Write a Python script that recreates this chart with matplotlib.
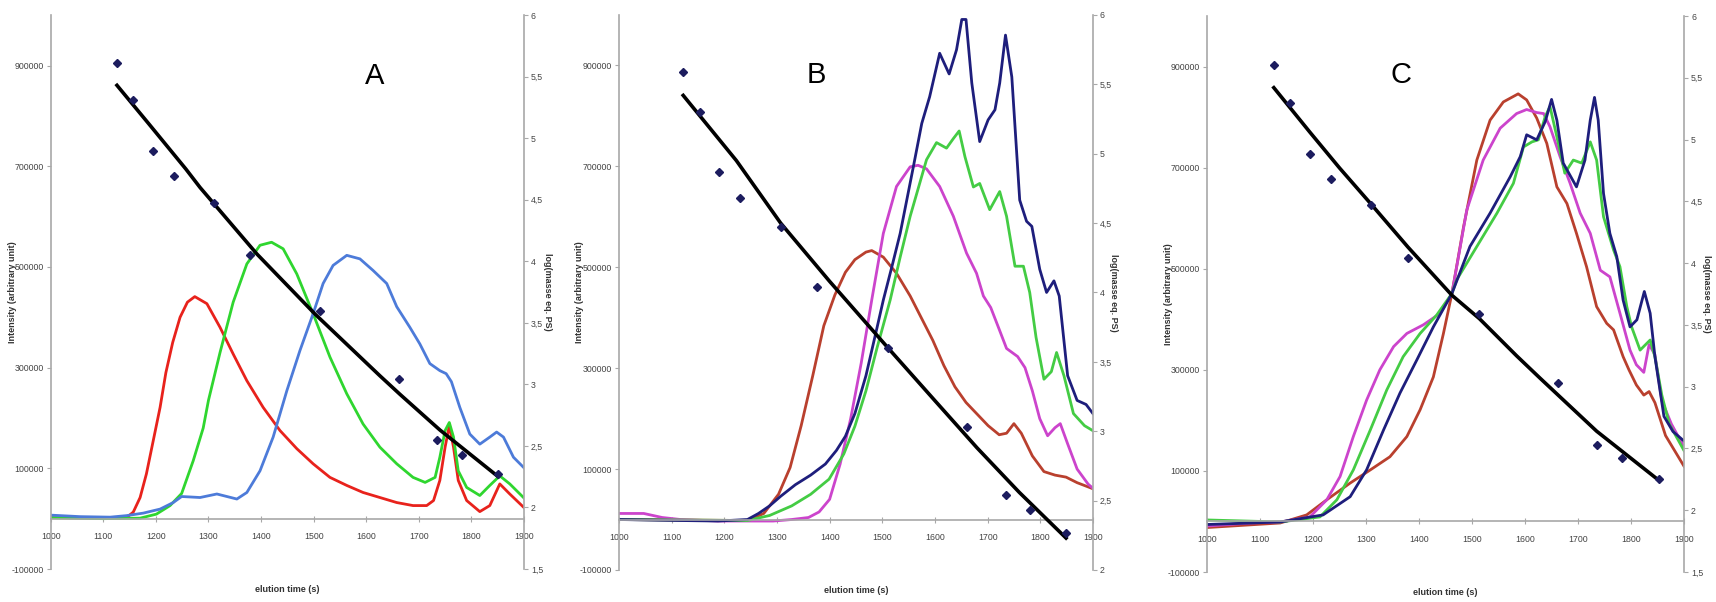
import numpy as np
import matplotlib.pyplot as plt
from matplotlib.ticker import FuncFormatter

plt.rcParams['font.family'] = ['Liberation Sans', 'DejaVu Sans']

# ---------------- panel A (intensity in thousands) ----------------
a_t_red = [1000, 1100, 1144, 1157, 1170, 1182, 1195, 1208, 1219, 1232, 1246, 1260, 1274, 1297,
           1322, 1347, 1373, 1404, 1436, 1468, 1499, 1531, 1563, 1594, 1626, 1658, 1689, 1715,
           1728, 1740, 1750, 1758, 1766, 1775, 1791, 1816, 1835, 1854, 1873, 1900]
a_red = [2, 1, 2, 13, 42, 89, 155, 221, 290, 350, 400, 430, 441, 427, 380, 327, 274, 221, 175,
         139, 109, 82, 66, 52, 42, 32, 26, 26, 36, 76, 142, 185, 142, 76, 36, 14, 26, 69, 49, 22]

a_t_green = [1000, 1100, 1170, 1201, 1227, 1249, 1271, 1290, 1300, 1322, 1347, 1373, 1398, 1420,
             1442, 1468, 1499, 1531, 1563, 1594, 1626, 1658, 1689, 1712, 1731, 1740, 1750, 1758,
             1766, 1775, 1791, 1816, 1835, 1854, 1873, 1900]
a_green = [2, 0, 1, 9, 26, 50, 115, 180, 235, 330, 430, 506, 543, 549, 536, 486, 407, 321, 248,
           188, 142, 109, 82, 72, 82, 122, 175, 191, 162, 95, 62, 46, 66, 85, 69, 41]

a_t_blue = [1000, 1056, 1113, 1144, 1176, 1208, 1233, 1249, 1284, 1316, 1354, 1373, 1398, 1423,
            1449, 1474, 1499, 1518, 1537, 1563, 1588, 1613, 1639, 1658, 1683, 1702, 1721, 1740,
            1752, 1762, 1778, 1797, 1816, 1835, 1848, 1861, 1880, 1900]
a_blue = [7, 4, 3, 6, 11, 19, 32, 44, 42, 49, 39, 52, 95, 162, 254, 334, 407, 467, 503, 523, 516,
          493, 467, 421, 380, 347, 308, 294, 288, 272, 221, 168, 148, 162, 172, 162, 122, 101]

a_pt_t = [1126, 1157, 1195, 1235, 1310, 1379, 1512, 1662, 1734, 1782, 1850]
a_pt_log = [5.61, 5.31, 4.90, 4.69, 4.47, 4.05, 3.60, 3.04, 2.55, 2.43, 2.27]
a_fit_t = [1126, 1186, 1257, 1284, 1392, 1503, 1626, 1664, 1740, 1851]
a_fit_log = [5.43, 5.12, 4.75, 4.60, 4.06, 3.57, 3.07, 2.92, 2.63, 2.25]

# ---------------- panel B ----------------
b_t_red = [1000, 1244, 1275, 1303, 1325, 1346, 1368, 1389, 1410, 1430, 1448, 1469, 1480, 1502,
           1527, 1553, 1574, 1596, 1617, 1638, 1659, 1680, 1701, 1722, 1736, 1750, 1764, 1785,
           1807, 1828, 1849, 1870, 1900]
b_red = [0, -2, 12, 50, 103, 186, 285, 384, 445, 490, 515, 530, 533, 520, 488, 443, 400, 355,
         305, 263, 232, 209, 186, 168, 171, 190, 171, 126, 95, 88, 84, 73, 61]

b_t_mag = [1000, 1047, 1082, 1117, 1188, 1258, 1293, 1328, 1360, 1380, 1400, 1420, 1440, 1460,
           1480, 1502, 1527, 1553, 1568, 1584, 1609, 1635, 1660, 1679, 1692, 1706, 1722, 1736,
           1757, 1771, 1785, 1799, 1814, 1828, 1838, 1852, 1870, 1891, 1900]
b_mag = [12, 12, 4, 0, -3, -3, -3, 0, 4, 15, 40, 110, 200, 310, 435, 567, 660, 699, 702, 695,
         660, 601, 528, 488, 443, 420, 377, 339, 323, 301, 255, 200, 166, 182, 190, 150, 100, 70,
         62]

b_t_green = [1000, 1244, 1286, 1328, 1364, 1399, 1427, 1448, 1469, 1490, 1515, 1534, 1553, 1584,
             1603, 1622, 1635, 1646, 1657, 1673, 1685, 1704, 1723, 1736, 1752, 1768, 1780, 1792,
             1807, 1821, 1831, 1845, 1863, 1884, 1900]
b_green = [0, -2, 8, 27, 50, 80, 130, 185, 255, 340, 435, 520, 601, 713, 747, 736, 755, 770, 719,
           659, 666, 614, 650, 601, 502, 502, 450, 361, 278, 293, 331, 285, 210, 186, 176]

b_t_navy = [1000, 1117, 1188, 1244, 1265, 1286, 1307, 1335, 1364, 1392, 1413, 1430, 1448, 1469,
            1490, 1502, 1518, 1534, 1559, 1575, 1590, 1609, 1627, 1641, 1651, 1659, 1670, 1685,
            1701, 1714, 1723, 1734, 1746, 1761, 1774, 1784, 1799, 1812, 1826, 1836, 1852, 1870,
            1887, 1900]
b_navy = [0, -2, -3, 0, 12, 27, 46, 69, 88, 110, 137, 165, 210, 285, 380, 435, 500, 567, 699, 785,
          838, 924, 883, 931, 991, 991, 865, 749, 792, 812, 865, 960, 877, 633, 591, 581, 496,
          450, 473, 443, 285, 236, 228, 210]

b_pt_t = [1122, 1153, 1190, 1230, 1307, 1376, 1511, 1660, 1734, 1780, 1849]
b_pt_log = [5.59, 5.30, 4.87, 4.68, 4.47, 4.04, 3.60, 3.03, 2.54, 2.43, 2.27]
b_fit_t = [1122, 1223, 1307, 1400, 1511, 1600, 1680, 1760, 1849]
b_fit_log = [5.42, 4.95, 4.50, 4.08, 3.60, 3.22, 2.88, 2.56, 2.23]

# ---------------- panel C ----------------
c_t_red = [1000, 1138, 1188, 1226, 1270, 1308, 1345, 1377, 1402, 1427, 1446, 1462, 1484, 1509,
           1534, 1559, 1587, 1603, 1622, 1641, 1660, 1679, 1697, 1716, 1735, 1754, 1767, 1785,
           1796, 1810, 1824, 1834, 1845, 1865, 1900]
c_red = [-12, -3, 13, 43, 76, 102, 128, 168, 221, 286, 372, 451, 583, 715, 794, 830, 846, 834,
         798, 748, 662, 629, 570, 504, 425, 392, 379, 326, 300, 270, 250, 257, 235, 170, 109]

c_t_mag = [1000, 1083, 1138, 1194, 1226, 1251, 1276, 1301, 1326, 1352, 1377, 1408, 1440, 1462,
           1490, 1521, 1553, 1584, 1603, 1622, 1635, 1647, 1666, 1685, 1704, 1723, 1742, 1760,
           1779, 1798, 1810, 1824, 1834, 1845, 1858, 1876, 1900]
c_mag = [-9, -3, -1, 9, 43, 89, 168, 240, 300, 346, 372, 389, 412, 451, 616, 715, 778, 807, 815,
         809, 807, 781, 722, 669, 610, 570, 497, 484, 412, 339, 310, 295, 350, 330, 239, 193, 147]

c_t_green = [1000, 1138, 1213, 1245, 1276, 1308, 1339, 1370, 1402, 1433, 1462, 1471, 1509, 1547,
             1578, 1597, 1613, 1625, 1638, 1647, 1660, 1675, 1691, 1707, 1723, 1735, 1748, 1767,
             1779, 1792, 1801, 1817, 1836, 1845, 1858, 1872, 1900]
c_green = [3, -1, 9, 43, 102, 181, 260, 326, 372, 408, 451, 478, 544, 610, 669, 741, 751, 755,
           801, 821, 761, 689, 715, 709, 751, 715, 603, 537, 504, 425, 385, 339, 359, 326, 250,
           193, 140]

c_t_navy = [1000, 1138, 1219, 1270, 1301, 1333, 1364, 1396, 1427, 1462, 1496, 1534, 1572, 1591,
            1603, 1622, 1638, 1650, 1660, 1672, 1697, 1713, 1723, 1731, 1738, 1748, 1760, 1773,
            1785, 1798, 1811, 1825, 1836, 1845, 1862, 1879, 1900]
c_navy = [-6, -1, 13, 49, 102, 181, 254, 320, 385, 451, 544, 610, 682, 722, 765, 755, 791, 835,
          794, 709, 662, 715, 794, 839, 794, 649, 570, 524, 438, 385, 399, 455, 412, 326, 208,
          178, 159]

c_pt_t = [1126, 1157, 1194, 1234, 1309, 1379, 1514, 1663, 1736, 1782, 1852]
c_pt_log = [5.60, 5.30, 4.88, 4.68, 4.47, 4.04, 3.59, 3.03, 2.53, 2.42, 2.25]
c_fit_t = [1126, 1194, 1250, 1309, 1379, 1462, 1514, 1584, 1628, 1735, 1850]
c_fit_log = [5.42, 5.06, 4.77, 4.48, 4.13, 3.74, 3.55, 3.25, 3.07, 2.64, 2.25]

RED_A, GREEN_A, BLUE_A = '#e8221c', '#2fd62f', '#4d7bd9'
RED, MAG, GREEN, NAVY = '#b9402e', '#cc44cc', '#44cc44', '#1e1e7c'
AXIS_GREY = '#a8a8a8'
TXT = '#444444'

fig = plt.figure(figsize=(17.16, 6.02), dpi=100)


def comma(v, pos):
    return ('%g' % v).replace('.', ',')


def panel(rect, curves, pt_t, pt_log, fit_t, fit_log, log_lo, letter, let_xy, lab_l, lab_r):
    ax = fig.add_axes(rect)
    for t, v, c in curves:
        ax.plot(t, np.array(v) * 1000, color=c, lw=2.0, solid_joinstyle='round')
    ax.set_xlim(1000, 1900)
    ax.set_ylim(-100000, 1000000)
    ax.set_xticks(range(1000, 1901, 100))
    ax.set_yticks(range(-100000, 900001, 200000))
    ax.yaxis.set_major_formatter(FuncFormatter(lambda v, p: '%d' % v))
    ax.spines['bottom'].set_position(('data', 0))
    ax.spines['top'].set_visible(False)
    ax.spines['right'].set_visible(False)
    for s in ('bottom', 'left'):
        ax.spines[s].set_color(AXIS_GREY)
        ax.spines[s].set_linewidth(1.2)
    ax.tick_params(axis='x', direction='inout', length=5, width=0.8, color=AXIS_GREY,
                   labelsize=6.3, labelcolor=TXT, pad=7)
    ax.tick_params(axis='y', direction='out', length=3, width=0.8, color=AXIS_GREY,
                   labelsize=6.3, labelcolor=TXT, pad=2)
    ax.set_xlabel('elution time (s)', fontsize=6.5, fontweight='bold', color='#333333',
                  va='center')
    ax.xaxis.set_label_coords(0.5, -0.037)
    ax.set_ylabel('Intensity (arbitrary unit)', fontsize=6.5, fontweight='bold',
                  color='#333333', va='center', ha='center')
    ax.yaxis.set_label_coords(lab_l, 0.5)
    ax.text(let_xy[0], let_xy[1], letter, fontsize=21, ha='center', va='center')

    ax2 = ax.twinx()
    ax2.plot(fit_t, fit_log, color='black', lw=2.6, solid_joinstyle='round')
    ax2.plot(pt_t, pt_log, 'D', color='#1c1c5e', ms=3.6)
    ax2.set_ylim(log_lo, 6)
    ax2.set_yticks(np.arange(log_lo, 6.01, 0.5))
    ax2.yaxis.set_major_formatter(FuncFormatter(comma))
    for s in ('top', 'bottom', 'left'):
        ax2.spines[s].set_visible(False)
    ax2.spines['right'].set_color(AXIS_GREY)
    ax2.spines['right'].set_linewidth(1.2)
    ax2.tick_params(axis='y', direction='out', length=3, width=0.8, color=AXIS_GREY,
                    labelsize=6.3, labelcolor=TXT, pad=2)
    ax2.set_ylabel('log(masse eq. PS)', rotation=270, fontsize=6.5, fontweight='bold',
                   color='#333333', va='center', ha='center')
    ax2.yaxis.set_label_coords(lab_r, 0.5)


panel([0.02955, 0.0548, 0.2758, 0.920],
      [(a_t_red, a_red, RED_A), (a_t_green, a_green, GREEN_A), (a_t_blue, a_blue, BLUE_A)],
      a_pt_t, a_pt_log, a_fit_t, a_fit_log, 1.5, 'A', (1616, 880000), -0.080, 1.049)

panel([0.3607, 0.0532, 0.2762, 0.922],
      [(b_t_red, b_red, RED), (b_t_mag, b_mag, MAG), (b_t_green, b_green, GREEN),
       (b_t_navy, b_navy, NAVY)],
      b_pt_t, b_pt_log, b_fit_t, b_fit_log, 2.0, 'B', (1375, 880000), -0.084, 1.044)

panel([0.7034, 0.0498, 0.2780, 0.9236],
      [(c_t_red, c_red, RED), (c_t_mag, c_mag, MAG), (c_t_green, c_green, GREEN),
       (c_t_navy, c_navy, NAVY)],
      c_pt_t, c_pt_log, c_fit_t, c_fit_log, 1.5, 'C', (1366, 884000), -0.080, 1.046)

fig.savefig('out.png', dpi=100)
